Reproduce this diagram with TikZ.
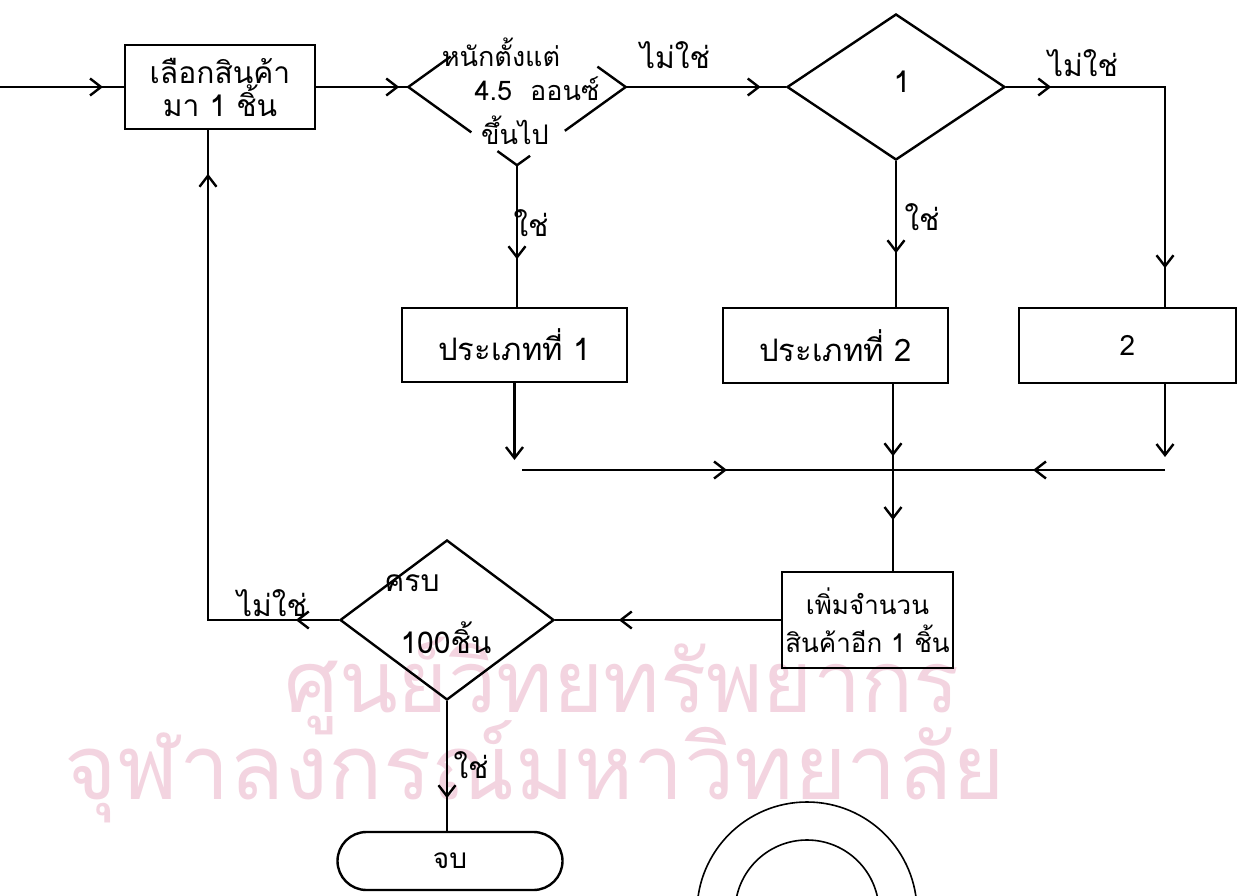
\documentclass[tikz,border=0pt]{standalone}
\usepackage{fontspec}
\newfontfamily\thai[Script=Thai]{Loma}
\usetikzlibrary{arrows.meta,decorations.markings,shapes.geometric,calc}
\definecolor{wmpink}{RGB}{243,212,224}
\newcommand{\fs}[1]{\fontsize{#1}{27}\selectfont}
\begin{document}
\begin{tikzpicture}[x=1pt,y=-1pt,line width=2.4pt,
  every node/.style={font=\thai\fs{28}},
  proc/.style={draw,rectangle,inner sep=0pt,align=center},
  decision/.style={diamond,inner sep=0pt},
  term/.style={draw,rectangle,rounded corners=29pt,inner sep=0pt},
  lbl/.style={inner sep=0pt,font=\thai\fs{30}},
  wm/.style={inner sep=0pt,text=wmpink},
  arr/.style={postaction={decorate,decoration={markings,
     mark=at position #1 with {\arrow{Straight Barb[length=11pt,width=17pt]}}}}},
  tipend/.style={-{Straight Barb[length=11pt,width=17pt]}}]
\useasboundingbox (0,0) rectangle (1239,896);
\fill[white] (0,0) rectangle (1239,896);
\clip (0,0) rectangle (1239,896);
% watermark
\node[wm] (w1) at (622,686) {\resizebox{675pt}{!}{ศูนย์วิทยทรัพยากร}};
\node[wm] (w2) at (535,772) {\resizebox{940pt}{!}{จุฬาลงกรณ์มหาวิทยาลัย}};
% stamp
\node[circle,draw,line width=1.6pt,minimum size=220pt,inner sep=0pt] (st1) at (807,912) {};
\node[circle,draw,line width=1.6pt,minimum size=144pt,inner sep=0pt] (st2) at (807,912) {};
% nodes
\coordinate (in) at (0,87);
\node[proc,minimum width=190pt,minimum height=84pt,font=\thai\fontsize{30}{27}\selectfont] (box1) at (220,87) {เลือกสินค้า\\มา 1 ชิ้น};
\node[decision,draw=none,minimum width=215pt,minimum height=154pt] (d1) at (517,87) {};
\draw (d1.west) -- ($(d1.west)!0.39!(d1.north)$);
\draw (d1.east) -- ($(d1.east)!0.26!(d1.north)$);
\draw (d1.west) -- ($(d1.west)!0.58!(d1.south)$);
\draw (d1.east) -- ($(d1.east)!0.56!(d1.south)$);
\draw ($(d1.south)!0.18!(d1.west)$) -- (d1.south) -- ($(d1.south)!0.12!(d1.east)$);
\node[lbl,font=\thai\fs{27}] (d1a) at (501,52) {หนักตั้งแต่};
\node[lbl,font=\thai\fs{27}] (d1b) at (537,89) {4.5 ~ออนซ์};
\node[lbl,font=\thai\fs{27}] (d1c) at (515,130) {ขึ้นไป};
\node[decision,draw,minimum width=218pt,minimum height=146pt] (d2) at (896,87) {};
\node[lbl] (d2t) at (902,82) {1};
\node[proc,minimum width=225pt,minimum height=74pt,font=\thai\fs{31}] (p1) at (514.5,345) {ประเภทที่ 1};
\node[proc,minimum width=225pt,minimum height=75pt,font=\thai\fs{31}] (p2) at (835.5,345.5) {ประเภทที่ 2};
\node[proc,minimum width=217pt,minimum height=75pt] (b2) at (1127.5,345.5) {2};
\node[proc,minimum width=171pt,minimum height=96pt,font=\thai\fontsize{26}{38}\selectfont] (add) at (867.5,620) {เพิ่มจำนวน\\สินค้าอีก 1 ชิ้น};
\node[decision,draw,minimum width=214pt,minimum height=160pt] (d3) at (447,620) {};
\node[lbl] (d3a) at (412,583) {ครบ};
\node[lbl] (d3b) at (446,638) {100ชิ้น};
\node[term,minimum width=225pt,minimum height=58pt] (end) at (450,861) {จบ};
% labels
\node[lbl] (l1) at (675,55) {ไม่ใช่};
\node[lbl] (l2) at (1083,63) {ไม่ใช่};
\node[lbl] (l3) at (531,223) {ใช่};
\node[lbl] (l4) at (922,217) {ใช่};
\node[lbl] (l5) at (272,603) {ไม่ใช่};
\node[lbl] (l6) at (471,765) {ใช่};
% helper points
\coordinate (c1) at (1165,87);
\coordinate (m1) at (514.5,460);
\coordinate (j) at (893,470);
\coordinate (m3) at (1165,457);
\coordinate (hl) at (522,470);
\coordinate (hr) at (1165,470);
\coordinate (c2) at (208,620);
% connectors
\draw[arr=103pt] (in) -- (box1.west);
\draw[arr=83pt] (box1.east) -- (d1.west);
\draw[arr=135pt] (d1.east) -- (d2.west);
\draw[arr=45pt,arr=340pt] (d2.east) -- (c1) -- (b2.north -| c1);
\draw[arr=94pt] (d1.south) -- (d1.south |- p1.north);
\draw[arr=92pt] (d2.south) -- (d2.south |- p2.north);
\draw[tipend] (p1.south) -- (m1);
\draw[arr=72pt] (p2.south -| j) -- (j);
\draw[tipend] (b2.south -| m3) -- (m3);
\draw[arr=205pt] (hl) -- (j);
\draw[arr=132pt] (hr) -- (j);
\draw[arr=50pt] (j) -- (j |- add.north);
\draw[arr=162pt] (add.west) -- (d3.east);
\draw[arr=43pt,arr=577pt] (d3.west) -- (c2) -- (c2 |- box1.south);
\draw[arr=97pt] (d3.south) -- (d3.south |- end.north);
\end{tikzpicture}
\end{document}
